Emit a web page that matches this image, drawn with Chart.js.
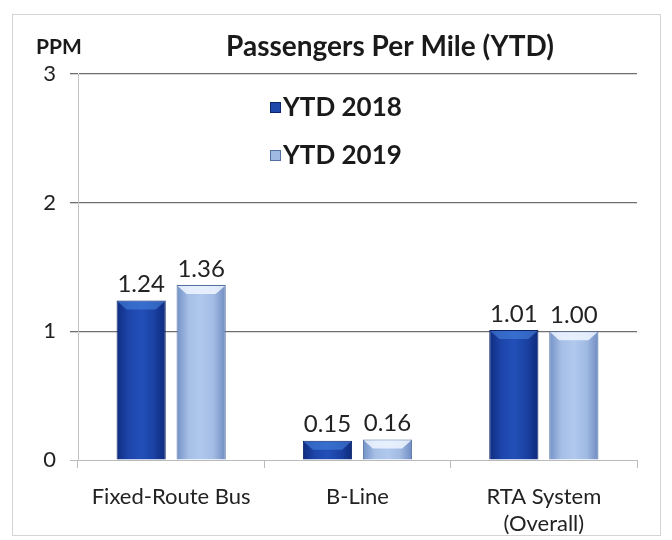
<!DOCTYPE html>
<html>
<head>
<meta charset="utf-8">
<script src="https://cdn.jsdelivr.net/npm/chart.js@4/dist/chart.umd.min.js"></script>
<style>
html,body{margin:0;padding:0;background:#fff;}
#wrap{width:672px;height:540px;position:relative;}
</style>
</head>
<body>
<div id="wrap"><canvas id="c" width="672" height="540"></canvas></div>
<script>
const categories = [["Fixed-Route Bus"], ["B-Line"], ["RTA System", "(Overall)"]];
const seriesNames = ["YTD 2018", "YTD 2019"];
const ytd2018 = [1.24, 0.15, 1.01];
const ytd2019 = [1.36, 0.16, 1.00];
const yTicks = [0, 1, 2, 3];
const chartTitle = "Passengers Per Mile (YTD)";
const unitLabel = "PPM";

const FONT = "Lato, 'Open Sans', sans-serif";

function barFill(stops, fallback) {
  return function(c) {
    const el = c.element;
    if (!el || !isFinite(el.x) || !isFinite(el.width)) return fallback;
    const g = c.chart.ctx.createLinearGradient(el.x - el.width / 2, 0, el.x + el.width / 2, 0);
    stops.forEach((s, i) => g.addColorStop(i / (stops.length - 1), s));
    return g;
  };
}

const decorPlugin = {
  id: 'decor',
  beforeDraw(chart) {
    const ctx = chart.ctx;
    ctx.save();
    ctx.fillStyle = '#fff';
    ctx.fillRect(0, 0, chart.width, chart.height);
    ctx.strokeStyle = '#d4d4d4';
    ctx.lineWidth = 1;
    ctx.strokeRect(12.5, 14.5, 648, 521);
    ctx.restore();
  },
  afterDatasetsDraw(chart) {
    const ctx = chart.ctx;
    ctx.save();
    chart.data.datasets.forEach((ds, di) => {
      chart.getDatasetMeta(di).data.forEach((bar) => {
        const w = bar.width, x0 = bar.x - w / 2, y0 = bar.y;
        const h = Math.min(9, (bar.base - bar.y) / 2);
        ctx.fillStyle = ds.bevelColor;
        ctx.beginPath();
        ctx.moveTo(x0 + 1, y0 + 1);
        ctx.lineTo(x0 + w - 1, y0 + 1);
        ctx.lineTo(x0 + w - 1 - h, y0 + h);
        ctx.lineTo(x0 + 1 + h, y0 + h);
        ctx.closePath();
        ctx.fill();
      });
    });
    ctx.restore();
  },
  afterDraw(chart) {
    const ctx = chart.ctx;
    ctx.save();
    ctx.fillStyle = '#1a1a1a';
    ctx.textBaseline = 'middle';
    ctx.textAlign = 'center';
    ctx.font = "bold 28px " + FONT;
    ctx.fillText(chartTitle, 390, 47);
    ctx.font = "bold 21px " + FONT;
    ctx.fillText(unitLabel, 59, 47);
    ctx.font = "24px " + FONT;
    ctx.fillStyle = '#222';
    ctx.textBaseline = 'bottom';
    chart.data.datasets.forEach((ds, di) => {
      const meta = chart.getDatasetMeta(di);
      meta.data.forEach((bar, i) => {
        ctx.fillText(ds.data[i].toFixed(2), bar.x, bar.y - 4);
      });
    });
    const lx = 270, ly = [107, 155];
    chart.data.datasets.forEach((ds, di) => {
      const y = ly[di];
      ctx.fillStyle = ds.legendColor;
      ctx.fillRect(lx, y - 5, 11, 11);
      ctx.strokeStyle = ds.borderColor;
      ctx.lineWidth = 1;
      ctx.strokeRect(lx + 0.5, y - 4.5, 10, 10);
      ctx.fillStyle = '#1a1a1a';
      ctx.font = "bold 26px " + FONT;
      ctx.textAlign = 'left';
      ctx.textBaseline = 'middle';
      ctx.fillText(ds.label, lx + 13, y + 1);
    });
    ctx.restore();
  }
};

const chart = new Chart(document.getElementById('c'), {
  type: 'bar',
  data: {
    labels: categories,
    datasets: [
      {
        label: seriesNames[0],
        data: ytd2018,
        backgroundColor: barFill(['#102c80', '#1d45aa', '#2250b8', '#1b42a4', '#0e2a7c'], '#1d45aa'),
        borderColor: '#0b2468',
        borderWidth: 1,
        bevelColor: 'rgba(70,130,220,0.6)',
        legendColor: '#1e48aa',
        barPercentage: 0.82,
        categoryPercentage: 0.644
      },
      {
        label: seriesNames[1],
        data: ytd2019,
        backgroundColor: barFill(['#7391c6', '#a6bfe6', '#b0c8ec', '#a2bbe3', '#6f8cc2'], '#a6bfe6'),
        borderColor: '#52719f',
        borderWidth: 1,
        bevelColor: 'rgba(240,246,255,0.85)',
        legendColor: '#a0b9e2',
        barPercentage: 0.82,
        categoryPercentage: 0.644
      }
    ]
  },
  options: {
    responsive: false,
    animation: false,
    layout: { padding: { left: 0, right: 35, top: 74, bottom: 0 } },
    plugins: {
      legend: { display: false },
      title: { display: false },
      tooltip: { enabled: false }
    },
    scales: {
      x: {
        afterFit(axis) { axis.height = 80; },
        grid: { display: true, drawOnChartArea: false, offset: true, tickLength: 8, color: '#bbb' },
        border: { color: '#bbb' },
        ticks: { color: '#222', font: { size: 22, family: FONT, lineHeight: 1.25 }, padding: 15 }
      },
      y: {
        min: 0, max: 3,
        afterBuildTicks(axis) { axis.ticks = yTicks.map(v => ({ value: v })); },
        grid: {
          color: (c) => c.tick && c.tick.value === 0 ? '#bbb' : '#6f6f6f',
          lineWidth: (c) => c.tick && c.tick.value === 0 ? 1 : 1.3,
          tickLength: 8
        },
        border: { color: '#c4c4c4' },
        afterFit(axis) { axis.width = 78; },
        ticks: { color: '#222', font: { size: 22, family: FONT }, padding: 14 }
      }
    }
  },
  plugins: [decorPlugin]
});
chart.update();
</script>
</body>
</html>
